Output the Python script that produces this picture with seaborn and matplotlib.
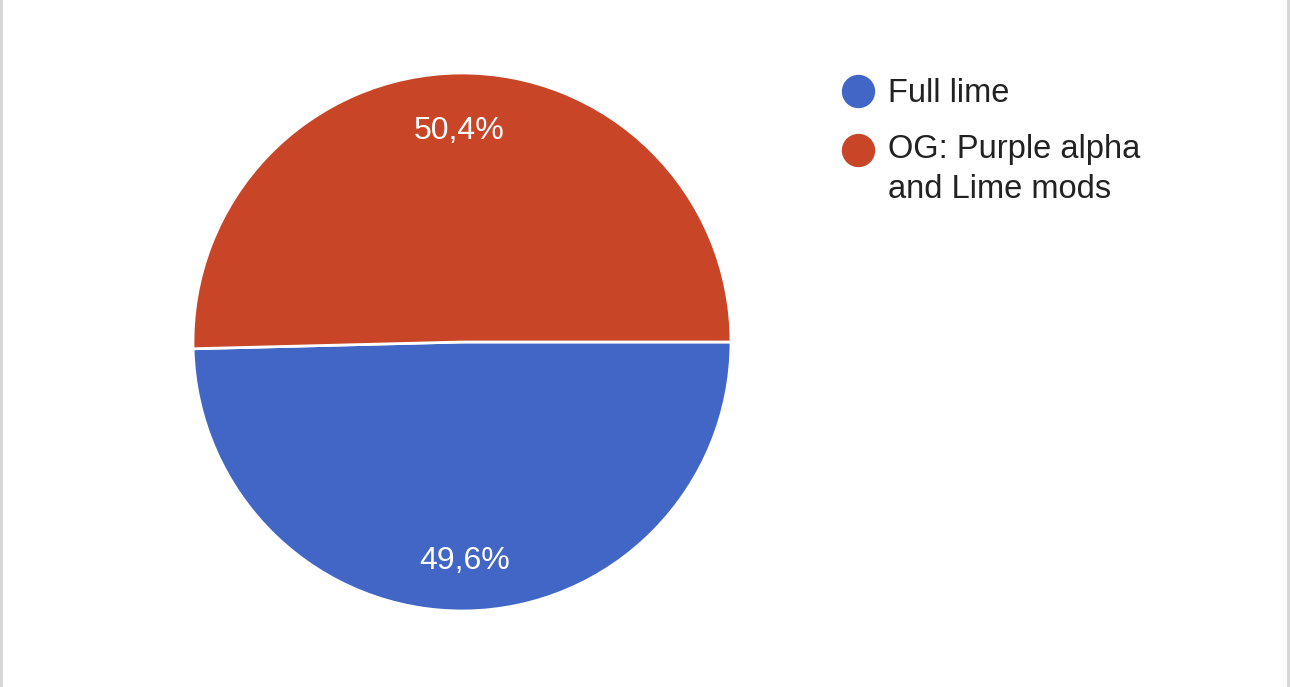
import matplotlib
matplotlib.use("Agg")
import numpy as np
import matplotlib.pyplot as plt
import seaborn as sns
from matplotlib.lines import Line2D
from matplotlib.patches import Rectangle
from matplotlib.legend_handler import HandlerLine2D

categories = ["Full lime", "OG: Purple alpha\nand Lime mods"]
shares = [49.6, 50.4]
colors = ["#4166C5", "#C84627"]

sns.set_theme(style="white")
plt.rcParams["font.family"] = ["Liberation Sans", "DejaVu Sans"]

W, H = 1290, 687
fig = plt.figure(figsize=(W / 100, H / 100), dpi=100, facecolor="#FFFFFF")

# side borders
fig.patches.append(Rectangle((0, 0), 3 / W, 1, transform=fig.transFigure,
                             facecolor="#D6D6D6", edgecolor="none"))
fig.patches.append(Rectangle((1 - 3 / W, 0), 3 / W, 1, transform=fig.transFigure,
                             facecolor="#D6D6D6", edgecolor="none"))

cx, cy, r = 462, 342, 269
ax = fig.add_axes([(cx - r) / W, (H - cy - r) / H, 2 * r / W, 2 * r / H])
ax.set_facecolor("none")

wedges, texts, autotexts = ax.pie(
    shares,
    colors=colors,
    startangle=0,
    counterclock=False,
    autopct=lambda p: f"{p:.1f}%".replace(".", ","),
    pctdistance=0.8,
    wedgeprops=dict(edgecolor="white", linewidth=2),
    textprops=dict(color="white", fontsize=23),
    radius=1.0,
)
for t in autotexts:
    x, y = t.get_position()
    t.set_position((x, y - 4 / r))
ax.set_xlim(-1.0, 1.0)
ax.set_ylim(-1.0, 1.0)
ax.set_aspect("equal")
ax.axis("off")

FS = 23.5
LS = 1.38


class TopAlignedHandler(HandlerLine2D):
    def __init__(self, nlines, **kw):
        super().__init__(**kw)
        self.nlines = nlines

    def create_artists(self, legend, orig_handle, xdescent, ydescent,
                       width, height, fontsize, trans):
        arts = super().create_artists(legend, orig_handle, xdescent, ydescent,
                                      width, height, fontsize, trans)
        dy = (self.nlines - 1) / 2 * 40 * 72 / 100  # half line step, in points
        for a in arts:
            a.set_ydata(np.asarray(a.get_ydata(), dtype=float) + dy)
        return arts


handles = [Line2D([0], [0], marker="o", linestyle="none", markersize=23,
                  markerfacecolor=c, markeredgecolor=c) for c in colors]
handler_map = {h: TopAlignedHandler(lbl.count("\n") + 1)
               for h, lbl in zip(handles, categories)}
leg = fig.legend(handles, categories, loc="upper left",
                 bbox_to_anchor=(842 / W, 1 - 78 / H),
                 frameon=False, fontsize=FS, borderpad=0, borderaxespad=0,
                 handlelength=0.98, handletextpad=0.44, labelspacing=0.76,
                 handler_map=handler_map)
for t in leg.get_texts():
    t.set_color("#222222")
    t.set_linespacing(LS)

fig.savefig("out.png", dpi=100, facecolor=fig.get_facecolor())
